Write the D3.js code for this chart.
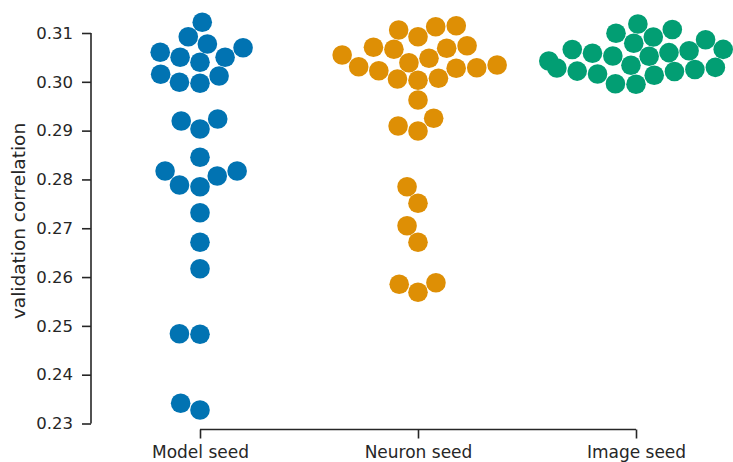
<!DOCTYPE html>
<html>
<head>
<meta charset="utf-8">
<script src="https://cdn.jsdelivr.net/npm/d3@7"></script>
<style>
  html, body { margin: 0; padding: 0; background: #ffffff; }
  svg { display: block; }
  text { font-family: "DejaVu Sans", sans-serif; fill: #262626; }
</style>
</head>
<body>
<svg id="chart" width="733" height="462"></svg>
<script>
// Validation correlation of each run, grouped by which seed was varied
const categories = ["Model seed", "Neuron seed", "Image seed"];

const modelSeed = [
  0.312192, 0.309242, 0.307746, 0.306046, 0.305022, 0.303997, 0.305032,
  0.306988, 0.301539, 0.299900, 0.299695, 0.301191, 0.291972, 0.290333,
  0.292382, 0.284535, 0.281729, 0.278860, 0.278512, 0.280704, 0.281739,
  0.273186, 0.267122, 0.261713, 0.248397, 0.248274, 0.234138, 0.232766
];

const neuronSeed = [
  0.310615, 0.309242, 0.311291, 0.311496, 0.305493, 0.307070, 0.306661,
  0.303096, 0.302277, 0.303915, 0.304817, 0.306866, 0.307398, 0.300576,
  0.300310, 0.300720, 0.302768, 0.302891, 0.303444, 0.296274, 0.290948,
  0.289923, 0.292525, 0.278512, 0.275111, 0.270522, 0.267122, 0.258517,
  0.256878, 0.258845
];

const imageSeed = [
  0.311844, 0.309939, 0.310717, 0.309181, 0.307910, 0.308607,
  0.306620, 0.305862, 0.305288, 0.305247, 0.305985, 0.306374,
  0.306640, 0.304264, 0.302830, 0.302195, 0.301601, 0.303383,
  0.301355, 0.302113, 0.302522, 0.302953, 0.299613, 0.299490
];

const seriesValues = [modelSeed, neuronSeed, imageSeed];
const palette = ["#0173b2", "#de8f05", "#029e73"];

const yTicks = [0.23, 0.24, 0.25, 0.26, 0.27, 0.28, 0.29, 0.30, 0.31];

const svg = d3.select("#chart");

const y = d3.scaleLinear().domain([0.23, 0.31]).range([423.5, 33]);
const x = d3.scalePoint().domain(categories).range([200, 636]);

const dotR = 9.8;
const swarmHalfWidth = 0.8 * x.step() / 2;

// Beeswarm placement: points are added from lowest to highest value,
// each taking the candidate slot closest to the midline that doesn't collide.
function beeswarm(values, cx) {
  const base = y(0.23);
  const d = 2 * dotR;
  const pts = values.map(v => ({ v, x: cx, u: base - y(v) }));
  const order = pts.slice().sort((a, b) => a.u - b.u);
  const placed = [order[0]];
  for (let i = 1; i < order.length; i++) {
    const p = order[i];
    const neighbors = [];
    for (let j = placed.length - 1; j >= 0; j--) {
      const q = placed[j];
      if (p.u - q.u < d) neighbors.push(q); else break;
    }
    const cands = [cx];
    let leftFirst = true;
    for (const q of neighbors) {
      const dy = p.u - q.u;
      const dx = Math.sqrt(Math.max(d * d - dy * dy, 0)) * 1.05;
      if (leftFirst) cands.push(q.x - dx, q.x + dx);
      else cands.push(q.x + dx, q.x - dx);
      leftFirst = !leftFirst;
    }
    const sorted = cands.map((c, k) => ({ c, k }))
      .sort((a, b) => (Math.abs(a.c - cx) - Math.abs(b.c - cx)) || (a.k - b.k));
    let chosen = cx;
    for (const { c } of sorted) {
      const ok = neighbors.every(q => {
        const ddx = q.x - c, ddy = q.u - p.u;
        return ddx * ddx + ddy * ddy >= d * d - 1e-9;
      });
      if (ok) { chosen = c; break; }
    }
    p.x = chosen;
    placed.push(p);
  }
  // points that overflow the category width are pushed back to its edge
  pts.forEach(p => {
    p.x = Math.max(cx - swarmHalfWidth, Math.min(cx + swarmHalfWidth, p.x));
  });
  return pts;
}

// Swarm points
categories.forEach((cat, ci) => {
  const pts = beeswarm(seriesValues[ci], x(cat));
  svg.append("g")
    .selectAll("circle")
    .data(pts)
    .join("circle")
    .attr("cx", d => d.x)
    .attr("cy", d => y(d.v))
    .attr("r", dotR)
    .attr("fill", palette[ci]);
});

// Y axis (spine trimmed to the tick range)
const yAxis = d3.axisLeft(y)
  .tickValues(yTicks)
  .tickFormat(d3.format(".2f"))
  .tickSize(9)
  .tickPadding(9)
  .tickSizeOuter(0);

const gy = svg.append("g")
  .attr("transform", "translate(91,0)")
  .call(yAxis);
gy.select(".domain").remove();
gy.append("line")
  .attr("x1", 0).attr("x2", 0)
  .attr("y1", y(0.23)).attr("y2", y(0.31))
  .attr("stroke", "#262626").attr("stroke-width", 1.6);
gy.selectAll(".tick line").attr("stroke", "#262626").attr("stroke-width", 1.6);
gy.selectAll(".tick text")
  .attr("font-size", 16.5)
  .attr("font-family", "DejaVu Sans")
  .attr("fill", "#262626");

// X axis (spine trimmed to the outer categories)
const xAxis = d3.axisBottom(x)
  .tickSize(9)
  .tickPadding(7)
  .tickSizeOuter(0);

const gx = svg.append("g")
  .attr("transform", "translate(0,429.5)")
  .call(xAxis);
gx.select(".domain").remove();
gx.append("line")
  .attr("x1", x(categories[0])).attr("x2", x(categories[categories.length - 1]))
  .attr("y1", 0).attr("y2", 0)
  .attr("stroke", "#262626").attr("stroke-width", 1.6);
gx.selectAll(".tick line").attr("stroke", "#262626").attr("stroke-width", 1.6);
gx.selectAll(".tick text")
  .attr("font-size", 17)
  .attr("font-family", "DejaVu Sans")
  .attr("fill", "#262626");

// Y axis title
svg.append("text")
  .attr("transform", "translate(25,221) rotate(-90)")
  .attr("text-anchor", "middle")
  .attr("font-size", 18.5)
  .text("validation correlation");
</script>
</body>
</html>
